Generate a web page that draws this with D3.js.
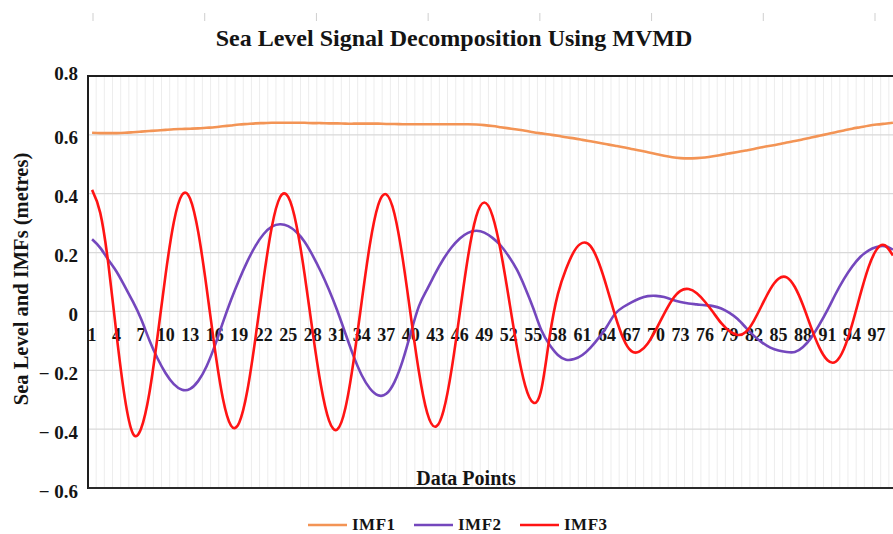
<!DOCTYPE html>
<html>
<head>
<meta charset="utf-8">
<script src="https://cdn.jsdelivr.net/npm/d3@7/dist/d3.min.js"></script>
<style>
  html, body { margin: 0; padding: 0; background: #fff; overflow: hidden; }
  svg { display: block; }
  text { font-family: "Liberation Serif", "Times New Roman", serif; font-weight: bold; fill: #141414; }
</style>
</head>
<body>
<svg id="chart" width="893" height="534"></svg>
<script>
/* Sea Level Signal Decomposition Using MVMD */

// Data points 1..99
const pointIds = d3.range(1, 100);

const imf1 = [
  0.607, 0.606, 0.606, 0.606, 0.607, 0.609, 0.611, 0.613, 0.615, 0.617,
  0.619, 0.620, 0.621, 0.622, 0.624, 0.626, 0.629, 0.632, 0.635, 0.637,
  0.639, 0.640, 0.641, 0.641, 0.641, 0.641, 0.641, 0.640, 0.640, 0.639,
  0.639, 0.638, 0.638, 0.638, 0.638, 0.638, 0.637, 0.637, 0.636, 0.636,
  0.636, 0.636, 0.636, 0.636, 0.636, 0.636, 0.636, 0.635, 0.633, 0.630,
  0.626, 0.622, 0.618, 0.614, 0.609, 0.605, 0.601, 0.597, 0.592, 0.588,
  0.583, 0.578, 0.573, 0.568, 0.563, 0.558, 0.552, 0.547, 0.541, 0.535,
  0.529, 0.524, 0.521, 0.520, 0.521, 0.523, 0.527, 0.532, 0.537, 0.542,
  0.547, 0.552, 0.558, 0.563, 0.568, 0.574, 0.579, 0.585, 0.591, 0.597,
  0.603, 0.609, 0.615, 0.621, 0.626, 0.631, 0.635, 0.638, 0.641
];

const imf2 = [
  0.245, 0.216, 0.175, 0.135, 0.085, 0.033, -0.026, -0.097, -0.159, -0.210,
  -0.247, -0.266, -0.263, -0.236, -0.187, -0.118, -0.038, 0.039, 0.108, 0.170,
  0.223, 0.263, 0.288, 0.296, 0.290, 0.270, 0.237, 0.190, 0.135, 0.073,
  0.003, -0.075, -0.152, -0.217, -0.262, -0.285, -0.280, -0.240, -0.168, -0.073,
  0.018, 0.075, 0.129, 0.178, 0.218, 0.248, 0.267, 0.274, 0.268, 0.250,
  0.224, 0.187, 0.141, 0.080, 0.010, -0.065, -0.114, -0.148, -0.164, -0.162,
  -0.148, -0.123, -0.090, -0.051, -0.008, 0.015, 0.031, 0.044, 0.052, 0.053,
  0.049, 0.040, 0.032, 0.027, 0.024, 0.021, 0.018, 0.010, -0.005, -0.026,
  -0.055, -0.083, -0.106, -0.123, -0.133, -0.138, -0.138, -0.121, -0.089, -0.045,
  0.005, 0.060, 0.110, 0.152, 0.185, 0.207, 0.219, 0.222, 0.210
];

const imf3 = [
  0.413, 0.335, 0.159, -0.080, -0.293, -0.415, -0.398, -0.279, -0.087, 0.126,
  0.303, 0.396, 0.383, 0.268, 0.083, -0.123, -0.295, -0.388, -0.378, -0.269,
  -0.089, 0.113, 0.288, 0.388, 0.389, 0.294, 0.127, -0.071, -0.251, -0.371,
  -0.401, -0.328, -0.168, 0.035, 0.228, 0.360, 0.398, 0.332, 0.181, -0.015,
  -0.206, -0.344, -0.392, -0.338, -0.196, -0.005, 0.185, 0.322, 0.370, 0.325,
  0.206, 0.044, -0.123, -0.252, -0.310, -0.262, -0.084, 0.059, 0.144, 0.205,
  0.233, 0.222, 0.166, 0.081, -0.013, -0.092, -0.135, -0.136, -0.109, -0.062,
  -0.008, 0.040, 0.070, 0.076, 0.062, 0.033, -0.003, -0.040, -0.067, -0.080,
  -0.070, -0.031, 0.023, 0.076, 0.111, 0.116, 0.083, 0.021, -0.055, -0.123,
  -0.166, -0.171, -0.128, -0.045, 0.056, 0.149, 0.210, 0.225, 0.190
];

const seriesNames = ["IMF1", "IMF2", "IMF3"];
const seriesColors = ["#F39455", "#7447BD", "#FF1414"];

const yTicks = [0.8, 0.6, 0.4, 0.2, 0, -0.2, -0.4, -0.6];
const yTickLabels = ["0.8", "0.6", "0.4", "0.2", "0", "\u2212 0.2", "\u2212 0.4", "\u2212 0.6"];
const xLabelStep = 3;

(function () {
  const svg = d3.select("#chart");
  const margin = { left: 88, top: 76, right: 897, bottom: 488 };

  // Category (band) scale: one band per data point, point sits at band centre
  const x = d3.scaleBand()
    .domain(pointIds)
    .range([margin.left, margin.right])
    .paddingInner(0).paddingOuter(0);
  const xc = d => x(d) + x.bandwidth() / 2;

  const y = d3.scaleLinear()
    .domain([-0.6, 0.8])
    .range([margin.bottom, margin.top]);

  // stray tick marks at the very top (left over from the figure above)
  const topTick = d3.scaleLinear().domain([0, 7]).range([93, 875]);
  svg.append("g").selectAll("line")
    .data(d3.range(8))
    .join("line")
    .attr("x1", d => topTick(d)).attr("x2", d => topTick(d))
    .attr("y1", 13).attr("y2", 21)
    .attr("stroke", "#cfcfcf").attr("stroke-width", 1);

  // Vertical gridlines (between categories)
  svg.append("g").selectAll("line")
    .data(pointIds)
    .join("line")
    .attr("x1", d => x(d) + x.bandwidth()).attr("x2", d => x(d) + x.bandwidth())
    .attr("y1", margin.top).attr("y2", margin.bottom)
    .attr("stroke", "#ededed").attr("stroke-width", 1);

  // Horizontal gridlines
  svg.append("g").selectAll("line")
    .data(yTicks.filter(v => v < 0.8 && v > -0.6))
    .join("line")
    .attr("x1", margin.left).attr("x2", margin.right)
    .attr("y1", d => y(d)).attr("y2", d => y(d))
    .attr("stroke", "#d9d9d9").attr("stroke-width", 1.2);

  // Frame: top, left, bottom
  svg.append("line")
    .attr("x1", margin.left).attr("x2", margin.right)
    .attr("y1", y(0.8)).attr("y2", y(0.8))
    .attr("stroke", "#1e1e1e").attr("stroke-width", 2);
  svg.append("line")
    .attr("x1", margin.left).attr("x2", margin.left)
    .attr("y1", y(0.8) - 1).attr("y2", y(-0.6) + 1)
    .attr("stroke", "#1e1e1e").attr("stroke-width", 2);
  svg.append("line")
    .attr("x1", margin.left).attr("x2", margin.right)
    .attr("y1", y(-0.6)).attr("y2", y(-0.6))
    .attr("stroke", "#2a2a2a").attr("stroke-width", 2.2);

  // Y tick labels
  svg.append("g").selectAll("text")
    .data(yTicks)
    .join("text")
    .attr("x", 78)
    .attr("y", d => y(d) + (d === 0.8 ? -3 : 3))
    .attr("text-anchor", "end")
    .attr("dominant-baseline", "central")
    .style("font-size", "19px")
    .text((d, i) => yTickLabels[i]);

  // X tick labels, drawn just below the zero line
  svg.append("g").selectAll("text")
    .data(pointIds.filter(d => (d - 1) % xLabelStep === 0))
    .join("text")
    .attr("x", d => xc(d))
    .attr("y", y(0) + 30)
    .attr("text-anchor", "middle")
    .style("font-size", "18px")
    .text(d => d);

  // Lines (smooth spline through the points)
  const allSeries = [imf1, imf2, imf3];
  const line = d3.line()
    .x((d, i) => xc(pointIds[i]))
    .y(d => y(d))
    .curve(d3.curveNatural);

  svg.append("g").selectAll("path")
    .data(allSeries)
    .join("path")
    .attr("fill", "none")
    .attr("stroke", (d, i) => seriesColors[i])
    .attr("stroke-width", 2.6)
    .attr("stroke-linejoin", "round")
    .attr("d", line);

  // Title
  svg.append("text")
    .attr("x", 454).attr("y", 46)
    .attr("text-anchor", "middle")
    .style("font-size", "24px")
    .text("Sea Level Signal Decomposition Using MVMD");

  // Axis titles
  svg.append("text")
    .attr("transform", "translate(28,279) rotate(-90)")
    .attr("text-anchor", "middle")
    .style("font-size", "20.5px")
    .text("Sea Level and IMFs (metres)");

  svg.append("text")
    .attr("x", 466).attr("y", 485)
    .attr("text-anchor", "middle")
    .style("font-size", "20px")
    .text("Data Points");

  // Legend
  const leg = svg.append("g").selectAll("g")
    .data(seriesNames)
    .join("g")
    .attr("transform", (d, i) => `translate(${308 + i * 106},525)`);
  leg.append("line")
    .attr("x1", 0).attr("x2", 39)
    .attr("stroke", (d, i) => seriesColors[i])
    .attr("stroke-width", 2.6);
  leg.append("text")
    .attr("x", 44).attr("y", 5)
    .style("font-size", "17px")
    .style("letter-spacing", "0.5px")
    .text(d => d);
})();
</script>
</body>
</html>
